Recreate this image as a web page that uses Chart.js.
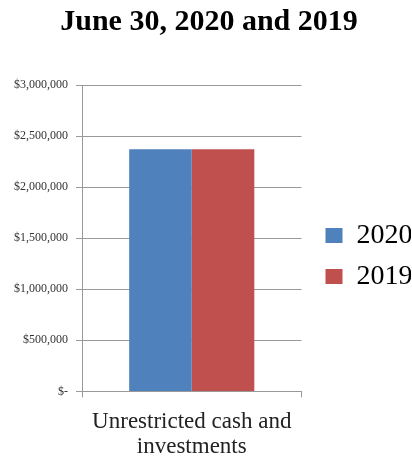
<!DOCTYPE html>
<html>
<head>
<meta charset="utf-8">
<script src="https://cdn.jsdelivr.net/npm/chart.js@4/dist/chart.umd.min.js"></script>
<style>
  html, body { margin: 0; padding: 0; background: #fff; }
  #wrap { width: 412px; height: 457px; }
</style>
</head>
<body>
<div id="wrap"><canvas id="cash"></canvas></div>
<script>
const categories = [["Unrestricted cash and", "investments"]]
const seriesNames = ["2020", "2019"]
const values2020 = [2370000]
const values2019 = [2370000]

const serif = "'Liberation Serif', 'DejaVu Serif', serif"

// keep the legend at the right edge while leaving a gap after the plot,
// and centre the title on the whole page
const nudge = {
  id: 'nudge',
  afterLayout(chart) {
    chart.legend.left += 11
    chart.legend.right += 11
    chart.titleBlock.left += 3
    chart.titleBlock.right += 9
  }
}

new Chart(document.getElementById("cash"), {
  type: 'bar',
  data: {
    labels: categories,
    datasets: [{
      label: seriesNames[0],
      data: values2020,
      backgroundColor: "#4F81BD",
      categoryPercentage: 0.57,
      barPercentage: 1
    }, {
      label: seriesNames[1],
      data: values2019,
      backgroundColor: "#C0504D",
      categoryPercentage: 0.57,
      barPercentage: 1
    }]
  },
  plugins: [nudge],
  options: {
    responsive: true,
    maintainAspectRatio: false,
    animation: false,
    layout: { padding: { left: 6, right: 12, bottom: -15, top: 4 } },
    plugins: {
      title: {
        display: true,
        text: "June 30, 2020 and 2019",
        color: "#000",
        font: { family: serif, size: 30, weight: 'bold' },
        padding: { top: 0, bottom: 45 }
      },
      legend: {
        position: 'right',
        title: {
          display: true,
          text: " ",
          font: { size: 20 },
          padding: 6
        },
        labels: {
          color: "#000",
          font: { family: serif, size: 28 },
          boxWidth: 17,
          boxHeight: 15,
          padding: 13
        }
      },
      tooltip: { enabled: false }
    },
    scales: {
      x: {
        grid: { drawOnChartArea: false, color: "#999", tickLength: 6 },
        border: { color: "#999" },
        ticks: { color: "#222", font: { family: serif, size: 23, lineHeight: 1.1 }, padding: 12 }
      },
      y: {
        min: 0,
        max: 3000000,
        grid: { color: "#999", tickLength: 6 },
        border: { color: "#999" },
        ticks: {
          stepSize: 500000,
          color: "#333",
          font: { family: serif, size: 12 },
          padding: 8,
          callback: v => v === 0 ? "$-" : "$" + v.toLocaleString("en-US")
        }
      }
    }
  }
})
</script>
</body>
</html>
